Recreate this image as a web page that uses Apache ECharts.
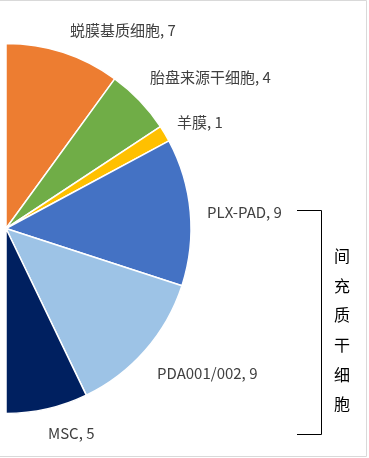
<!DOCTYPE html>
<html>
<head>
<meta charset="utf-8">
<script src="https://cdn.jsdelivr.net/npm/echarts@6/dist/echarts.min.js"></script>
<style>
  html, body { margin: 0; padding: 0; background: #fff; }
  #chart { width: 369px; height: 458px; }
</style>
</head>
<body>
<div id="chart"></div>
<script>
// Data
var categories = ['蜕膜基质细胞', '胎盘来源干细胞', '羊膜', 'PLX-PAD', 'PDA001/002', 'MSC'];
var values = [7, 4, 1, 9, 9, 5];
var colors = ['#ED7D31', '#70AD47', '#FFC000', '#4472C4', '#9DC3E6', '#002060'];
var hiddenRest = 35; // left half of the pie lies outside the picture
var groupLabel = '间充质干细胞';

// Label anchor points (left x, middle y) – layout only
var labelPos = [[70, 30], [150, 77], [177, 122], [207, 212], [157, 373], [48, 433]];

var pieData = categories.map(function (c, i) {
  return { name: c, value: values[i], itemStyle: { color: colors[i] } };
});
pieData.push({
  name: '', value: hiddenRest,
  itemStyle: { color: 'rgba(0,0,0,0)', borderWidth: 0 },
  label: { show: false }
});

var chart = echarts.init(document.getElementById('chart'), null, { renderer: 'canvas' });
chart.setOption({
  backgroundColor: '#ffffff',
  animation: false,
  textStyle: { fontFamily: '"Noto Sans CJK SC", "Noto Sans", sans-serif' },
  series: [{
    type: 'pie',
    silent: true,
    center: [6, 228.5],
    radius: [0, 185],
    startAngle: 90,
    clockwise: true,
    avoidLabelOverlap: false,
    itemStyle: { borderColor: '#ffffff', borderWidth: 1.5 },
    label: {
      show: true,
      position: 'outside',
      formatter: '{b}, {c}',
      color: '#404040',
      fontSize: 15,
      fontFamily: '"Noto Sans CJK SC", sans-serif'
    },
    labelLine: { show: false },
    labelLayout: function (params) {
      var p = labelPos[params.dataIndex];
      if (!p) return {};
      return { x: p[0], y: p[1], align: 'left', verticalAlign: 'middle' };
    },
    data: pieData
  }],
  graphic: [
    {
      type: 'rect',
      silent: true,
      shape: { x: -2, y: 0.5, width: 368.5, height: 456 },
      style: { fill: 'none', stroke: '#d9d9d9', lineWidth: 1 }
    },
    {
      type: 'polyline',
      silent: true,
      shape: { points: [[297, 210.5], [321.5, 210.5], [321.5, 434.5], [297, 434.5]] },
      style: { fill: 'none', stroke: '#000000', lineWidth: 1 }
    },
    {
      type: 'text',
      silent: true,
      x: 342,
      y: 241,
      style: {
        text: groupLabel.split('').join('\n'),
        fill: '#000000',
        fontSize: 16,
        lineHeight: 29.7,
        align: 'center',
        verticalAlign: 'top',
        fontFamily: '"Noto Sans CJK SC", sans-serif'
      }
    }
  ]
});
</script>
</body>
</html>
